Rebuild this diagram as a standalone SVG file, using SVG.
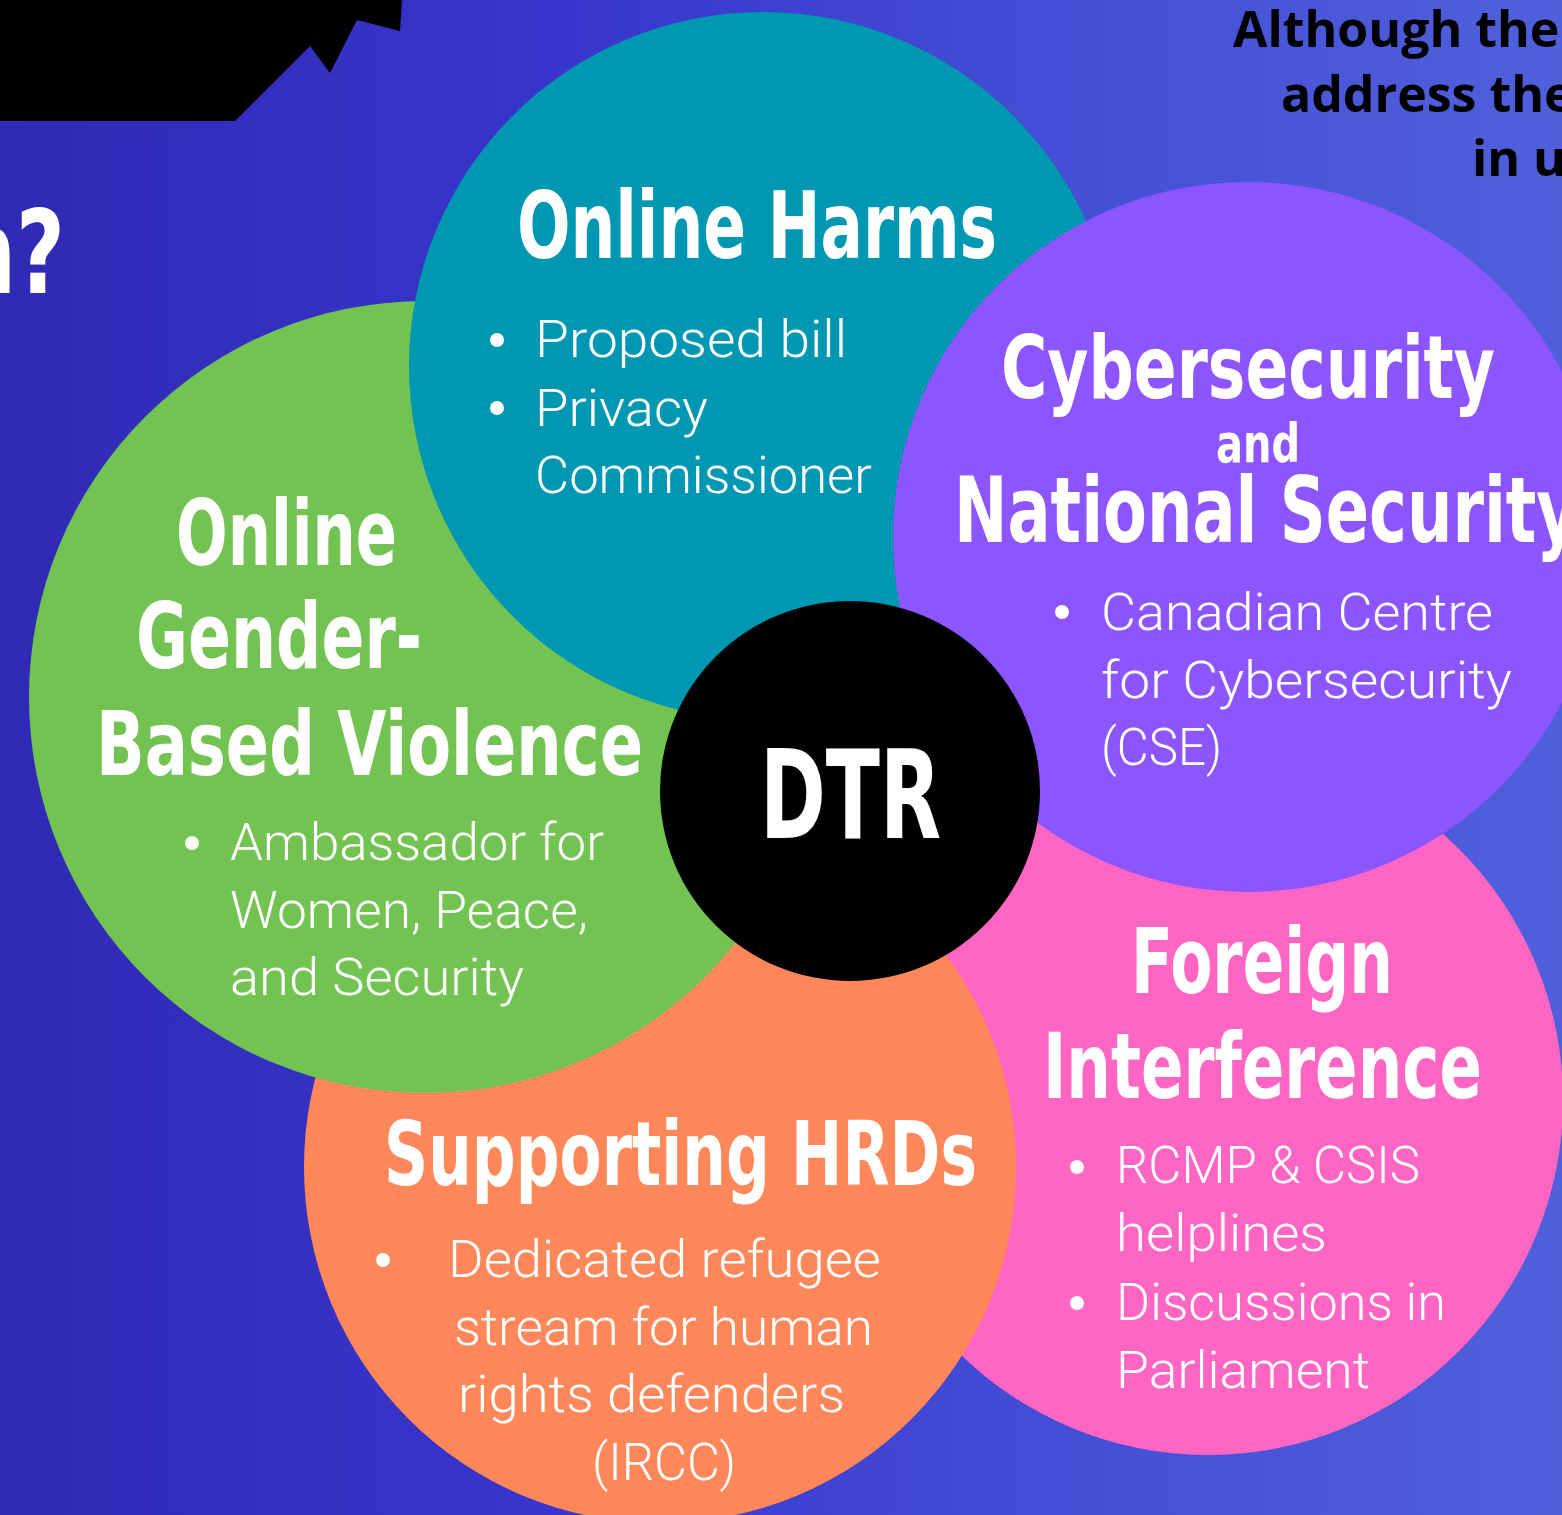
<svg xmlns="http://www.w3.org/2000/svg" width="1562" height="1515" viewBox="0 0 1562 1515">
<defs>
<linearGradient id="bg" x1="0" y1="0" x2="1" y2="0">
<stop offset="0" stop-color="#2F2AB4"/>
<stop offset="0.35" stop-color="#3835CC"/>
<stop offset="0.65" stop-color="#434CD5"/>
<stop offset="1" stop-color="#5060DB"/>
</linearGradient>
<style>
.h{font-family:"Liberation Sans Narrow","DejaVu Sans Condensed","Liberation Sans",sans-serif;font-weight:bold;font-stretch:condensed;fill:#fff}
.b{font-family:Roboto,"Open Sans","Liberation Sans",sans-serif;font-weight:300;font-size:52px;fill:#fff}
.t{font-family:"Open Sans","Liberation Sans",sans-serif;font-weight:bold;font-size:50px;fill:#000}
.dot{fill:#fff}
</style>
</defs>
<rect width="1562" height="1515" fill="url(#bg)"/>
<polygon points="0,0 402,0 400,31 357,20 330,73 310,46 235,121 0,121" fill="#000"/>
<text class="h" x="-44" y="293" font-size="116" textLength="109" lengthAdjust="spacingAndGlyphs">n?</text>
<text class="t" x="1233" y="47">Although the</text>
<text class="t" x="1281" y="112">address the</text>
<text class="t" x="1472" y="176">in u</text>

<g id="foreign-interference">
<circle cx="1208" cy="1100" r="355" fill="#FF66C4"/>
<text class="h" x="1131" y="993" font-size="91" textLength="262" lengthAdjust="spacingAndGlyphs">Foreign</text>
<text class="h" x="1043" y="1098" font-size="91" textLength="439" lengthAdjust="spacingAndGlyphs">Interference</text>
<circle class="dot" cx="1077" cy="1167" r="7"/>
<text class="b" x="1116" y="1183" textLength="304" lengthAdjust="spacingAndGlyphs">RCMP &amp; CSIS</text>
<text class="b" x="1116" y="1251" textLength="211" lengthAdjust="spacingAndGlyphs">helplines</text>
<circle class="dot" cx="1077" cy="1303" r="7"/>
<text class="b" x="1116" y="1320" textLength="330" lengthAdjust="spacingAndGlyphs">Discussions in</text>
<text class="b" x="1116" y="1388" textLength="254" lengthAdjust="spacingAndGlyphs">Parliament</text>
</g>

<g id="supporting-hrds">
<circle cx="660" cy="1167" r="356" fill="#FF875A"/>
<text class="h" x="384" y="1185" font-size="89" textLength="593" lengthAdjust="spacingAndGlyphs">Supporting HRDs</text>
<circle class="dot" cx="383" cy="1260" r="7"/>
<text class="b" x="448" y="1277" textLength="433" lengthAdjust="spacingAndGlyphs">Dedicated refugee</text>
<text class="b" x="454" y="1345" textLength="419" lengthAdjust="spacingAndGlyphs">stream for human</text>
<text class="b" x="458" y="1412" textLength="387" lengthAdjust="spacingAndGlyphs">rights defenders</text>
<text class="b" x="592" y="1480" textLength="144" lengthAdjust="spacingAndGlyphs">(IRCC)</text>
</g>

<g id="online-gbv">
<circle cx="425" cy="697" r="396" fill="#73C352"/>
<text class="h" x="176" y="565" font-size="91" textLength="221" lengthAdjust="spacingAndGlyphs">Online</text>
<text class="h" x="136" y="668" font-size="91" textLength="286" lengthAdjust="spacingAndGlyphs">Gender-</text>
<text class="h" x="96" y="775" font-size="89" textLength="547" lengthAdjust="spacingAndGlyphs">Based Violence</text>
<circle class="dot" cx="192" cy="843" r="7"/>
<text class="b" x="230" y="860" textLength="374" lengthAdjust="spacingAndGlyphs">Ambassador for</text>
<text class="b" x="230" y="928" textLength="358" lengthAdjust="spacingAndGlyphs">Women, Peace,</text>
<text class="b" x="230" y="995" textLength="294" lengthAdjust="spacingAndGlyphs">and Security</text>
</g>

<g id="online-harms">
<circle cx="763" cy="366" r="354" fill="#0097B2"/>
<text class="h" x="517" y="258" font-size="92" textLength="480" lengthAdjust="spacingAndGlyphs">Online Harms</text>
<circle class="dot" cx="497" cy="340" r="7"/>
<text class="b" x="535" y="357" textLength="312" lengthAdjust="spacingAndGlyphs">Proposed bill</text>
<circle class="dot" cx="497" cy="408" r="7"/>
<text class="b" x="535" y="426" textLength="173" lengthAdjust="spacingAndGlyphs">Privacy</text>
<text class="b" x="535" y="493" textLength="337" lengthAdjust="spacingAndGlyphs">Commissioner</text>
</g>

<g id="cybersecurity">
<circle cx="1248" cy="537" r="355" fill="#8C55FD"/>
<text class="h" x="1001" y="398" font-size="88" textLength="494" lengthAdjust="spacingAndGlyphs">Cybersecurity</text>
<text class="h" x="1216" y="462" font-size="54" textLength="84" lengthAdjust="spacingAndGlyphs">and</text>
<text class="h" x="954" y="542" font-size="90" textLength="624" lengthAdjust="spacingAndGlyphs">National Security</text>
<circle class="dot" cx="1062" cy="612" r="7"/>
<text class="b" x="1101" y="630" textLength="392" lengthAdjust="spacingAndGlyphs">Canadian Centre</text>
<text class="b" x="1101" y="698" textLength="411" lengthAdjust="spacingAndGlyphs">for Cybersecurity</text>
<text class="b" x="1101" y="765" textLength="121" lengthAdjust="spacingAndGlyphs">(CSE)</text>
</g>

<g id="dtr">
<circle cx="850" cy="791" r="190" fill="#000"/>
<text class="h" x="760" y="838" font-size="123" textLength="181" lengthAdjust="spacingAndGlyphs">DTR</text>
</g>

<g id="connectors"/>
</svg>
